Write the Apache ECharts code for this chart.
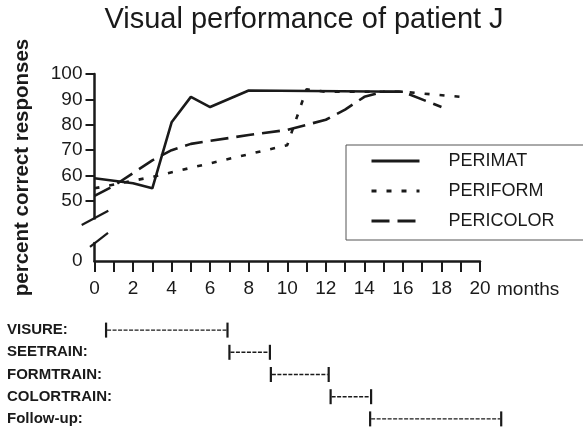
<!DOCTYPE html>
<html>
<head>
<meta charset="utf-8">
<script src="https://cdn.jsdelivr.net/npm/echarts@6/dist/echarts.min.js"></script>
<style>
  html, body { margin: 0; padding: 0; background: #fff; }
  #chart { width: 583px; height: 430px; }
</style>
</head>
<body>
<div id="chart"></div>
<script>
// month, percent correct
var perimat = [[0, 59], [2, 57], [3, 55], [4, 81], [5, 91], [6, 87], [8, 93.5], [16, 93]];
var periform = [[0, 55], [3, 59.5], [10, 72], [11, 94], [12, 93], [16, 93], [19, 91]];
var pericolor = [[0, 52], [1, 56], [3, 66], [4, 70], [5, 72.5], [8, 76], [10, 78], [11, 80], [12, 82], [13, 86], [14, 91], [15, 93], [16, 93], [18, 87]];

var yTicks = [50, 60, 70, 80, 90, 100];
var yZero = 26.4;          // axis value where the "0" sits below the break
var breakHi = 43.3, breakLo = 33.3;
var xLabels = [0, 2, 4, 6, 8, 10, 12, 14, 16, 18, 20];

var phases = ['VISURE:', 'SEETRAIN:', 'FORMTRAIN:', 'COLORTRAIN:', 'Follow-up:'];
var phaseStart = [0.6, 7.0, 9.15, 12.25, 14.3];
var phaseEnd = [6.9, 9.1, 12.15, 14.35, 21.1];

var ink = '#1a1a1a';
var font = '"Liberation Sans", Arial, sans-serif';

var myChart = echarts.init(document.getElementById('chart'));

var phaseData = [];
for (var i = 0; i < phases.length; i++) {
    phaseData.push([phaseStart[i], phaseEnd[i], i]);
}

var option = {
    animation: false,
    backgroundColor: '#fff',
    title: {
        text: 'Visual performance of patient J',
        left: 299,
        textAlign: 'center',
        top: 0,
        textStyle: { fontFamily: font, fontSize: 29, fontWeight: 'normal', color: ink }
    },
    legend: {
        orient: 'vertical',
        left: 346,
        top: 145,
        padding: [7, 29, 10, 24],
        itemWidth: 48,
        itemHeight: 22,
        itemGap: 12,
        borderColor: '#555',
        borderWidth: 1,
        selectedMode: false,
        itemStyle: { opacity: 0 },
        lineStyle: { width: 3 },
        textStyle: { fontFamily: font, fontSize: 18, color: ink, padding: [0, 0, 0, 24] },
        data: ['PERIMAT', 'PERIFORM', 'PERICOLOR']
    },
    grid: [
        { left: 94.5, right: 103, top: 74, height: 187 },
        { left: 94.5, right: 103, top: 319, height: 111 }
    ],
    xAxis: [{
        type: 'value',
        gridIndex: 0,
        min: 0,
        max: 20,
        interval: 1,
        name: 'months',
        nameLocation: 'end',
        nameGap: 17,
        nameTextStyle: { fontFamily: font, fontSize: 19, color: ink, align: 'left', verticalAlign: 'top', padding: [19, 0, 0, 0] },
        splitLine: { show: false },
        axisLine: { lineStyle: { color: ink, width: 2.5 } },
        axisTick: { length: 11, lineStyle: { color: ink, width: 2 } },
        axisLabel: {
            customValues: xLabels,
            margin: 18,
            fontFamily: font, fontSize: 19, color: ink
        }
    }, {
        type: 'value',
        gridIndex: 1,
        min: 0,
        max: 20,
        show: false
    }],
    yAxis: [{
        type: 'value',
        gridIndex: 0,
        min: yZero,
        max: 100,
        name: 'percent correct responses',
        nameLocation: 'middle',
        nameRotate: 90,
        nameGap: 62,
        nameTextStyle: { fontFamily: font, fontSize: 20.5, fontWeight: 'bold', color: ink },
        splitLine: { show: false },
        axisLine: { show: true, lineStyle: { color: ink, width: 2.5 } },
        axisTick: { customValues: yTicks, length: 9, lineStyle: { color: ink, width: 2 } },
        axisLabel: {
            customValues: [yZero].concat(yTicks),
            margin: 12,
            fontFamily: font, fontSize: 19, color: ink,
            formatter: function (v) { return v === yZero ? '0' : String(v); }
        }
    }, {
        type: 'category',
        gridIndex: 1,
        data: phases,
        inverse: true,
        axisLine: { show: false },
        axisTick: { show: false },
        axisLabel: {
            align: 'left',
            margin: 87.5,
            fontFamily: font, fontSize: 15, fontWeight: 'bold', color: ink
        }
    }],
    series: [{
        name: 'PERIMAT',
        type: 'line',
        data: perimat,
        symbol: 'none',
        lineStyle: { color: ink, width: 2.6, type: 'solid' },
        itemStyle: { color: ink }
    }, {
        name: 'PERIFORM',
        type: 'line',
        data: periform,
        symbol: 'none',
        lineStyle: { color: ink, width: 2.6, type: [5, 10] },
        itemStyle: { color: ink }
    }, {
        name: 'PERICOLOR',
        type: 'line',
        data: pericolor,
        symbol: 'none',
        lineStyle: { color: ink, width: 2.6, type: [18, 8] },
        itemStyle: { color: ink }
    }, {
        type: 'custom',
        xAxisIndex: 1,
        yAxisIndex: 1,
        clip: false,
        encode: { x: [0, 1], y: 2 },
        data: phaseData,
        renderItem: function (params, api) {
            var s = api.coord([api.value(0), api.value(2)]);
            var e = api.coord([api.value(1), api.value(2)]);
            var h = 7.5;
            return {
                type: 'group',
                children: [
                    { type: 'line', shape: { x1: s[0], y1: s[1] - h, x2: s[0], y2: s[1] + h }, style: { stroke: ink, lineWidth: 2.2 } },
                    { type: 'line', shape: { x1: e[0], y1: e[1] - h, x2: e[0], y2: e[1] + h }, style: { stroke: ink, lineWidth: 2.2 } },
                    { type: 'line', shape: { x1: s[0] + 1, y1: s[1], x2: e[0] - 1, y2: e[1] }, style: { stroke: ink, lineWidth: 1.4, lineDash: [4, 1.5] } }
                ]
            };
        }
    }]
};

myChart.setOption(option);

// axis break between 50 and 0
var hi = myChart.convertToPixel({ gridIndex: 0 }, [0, breakHi]);
var lo = myChart.convertToPixel({ gridIndex: 0 }, [0, breakLo]);
myChart.setOption({
    graphic: [
        { type: 'rect', shape: { x: hi[0] - 3, y: hi[1] + 1.5, width: 6, height: lo[1] - hi[1] - 3 }, style: { fill: '#fff' }, z: 100 },
        { type: 'line', shape: { x1: hi[0] - 12.8, y1: hi[1] + 6.9, x2: hi[0] + 13.8, y2: hi[1] - 7.4 }, style: { stroke: ink, lineWidth: 2.2 }, z: 101 },
        { type: 'line', shape: { x1: lo[0] - 4.5, y1: lo[1] + 3.5, x2: lo[0] + 13.5, y2: lo[1] - 10.5 }, style: { stroke: ink, lineWidth: 2.2 }, z: 101 }
    ]
});

window.addEventListener('resize', function () {
    myChart.resize();
});
</script>
</body>
</html>
